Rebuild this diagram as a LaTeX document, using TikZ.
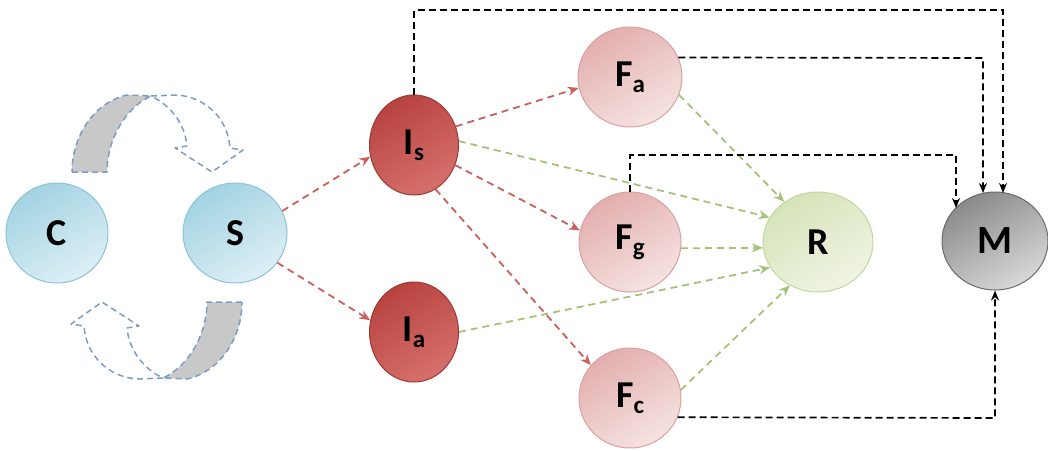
\documentclass[tikz,border=0pt]{standalone}
\usepackage{fontspec}
\setmainfont{Carlito}
\usetikzlibrary{shapes.geometric,arrows.meta,calc}
\definecolor{bluelo}{HTML}{A3D3E2}
\definecolor{bluehi}{HTML}{DDEFF5}
\definecolor{blueln}{HTML}{8CC3D4}
\definecolor{redlo}{HTML}{B8433F}
\definecolor{redhi}{HTML}{D6706C}
\definecolor{redln}{HTML}{9A3A36}
\definecolor{pinklo}{HTML}{E3AFAE}
\definecolor{pinkhi}{HTML}{F5E3E2}
\definecolor{pinkln}{HTML}{D9A0A0}
\definecolor{grnlo}{HTML}{D5E3B9}
\definecolor{grnhi}{HTML}{F0F5E4}
\definecolor{grnln}{HTML}{C4D6A0}
\definecolor{graylo}{HTML}{8A8A8A}
\definecolor{grayhi}{HTML}{D8D8D8}
\definecolor{grayln}{HTML}{6A6A6A}
\definecolor{redarr}{HTML}{C9605D}
\definecolor{grnarr}{HTML}{A6C27A}
\definecolor{cycln}{HTML}{7F9CC6}
\definecolor{cycfill}{HTML}{C8C8C8}
\newcommand\lbl[2]{#1\raisebox{-6pt}{\fontsize{25}{26}\selectfont #2}}
\begin{document}
\begin{tikzpicture}[x=1pt,y=-1pt,
  ball/.style={ellipse,inner sep=0pt,line width=1pt,font=\fontsize{38}{40}\selectfont\bfseries},
  bluenode/.style={ball,draw=blueln,left color=bluelo,right color=bluehi,shading angle=30,minimum width=102pt,minimum height=100pt},
  rednode/.style={ball,draw=redln,left color=redlo,right color=redhi,shading angle=30,minimum width=89pt,minimum height=100pt},
  pinknode/.style={ball,draw=pinkln,left color=pinklo,right color=pinkhi,shading angle=30,minimum width=102pt,minimum height=100pt},
  grnnode/.style={ball,draw=grnln,left color=grnlo,right color=grnhi,shading angle=30,minimum width=110pt,minimum height=100pt},
  graynode/.style={ball,draw=grayln,left color=graylo,right color=grayhi,shading angle=30,minimum width=106pt,minimum height=98pt},
  redcon/.style={draw=redarr,line width=1.8pt,dash pattern=on 7pt off 5pt,-{Stealth[length=11pt,width=9pt]}},
  grncon/.style={draw=grnarr,line width=1.8pt,dash pattern=on 7pt off 5pt,-{Stealth[length=11pt,width=9pt]}},
  blkcon/.style={draw=black,line width=1.7pt,dash pattern=on 7pt off 4pt,-{Stealth[length=10pt,width=8pt]}},
  cycout/.style={draw=cycln,line width=1.5pt,dash pattern=on 6pt off 4pt,line join=round},
]
\useasboundingbox (0,0) rectangle (1048,450);

% curved arrows
\begin{scope}
  \path[cycout,fill=cycfill] (72,172) -- (107,172) .. controls (107,140) and (125,108) .. (151,96) -- (127,95) .. controls (95,102) and (72,135) .. cycle;
  \path[cycout] (151,96) -- (177,95) .. controls (205,97) and (228,118) .. (230,148) -- (243,150) -- (212,172) -- (175,148) -- (187,146) .. controls (185,125) and (172,106) .. (151,96);
\end{scope}
\begin{scope}[rotate around={180:(157,237)}]
  \path[cycout,fill=cycfill] (72,172) -- (107,172) .. controls (107,140) and (125,108) .. (151,96) -- (127,95) .. controls (95,102) and (72,135) .. cycle;
  \path[cycout] (151,96) -- (177,95) .. controls (205,97) and (228,118) .. (230,148) -- (243,150) -- (212,172) -- (175,148) -- (187,146) .. controls (185,125) and (172,106) .. (151,96);
\end{scope}

% nodes
\node[bluenode] (C) at (57,233) {C};
\node[bluenode,minimum width=104pt] (S) at (235,233) {S};
\node[rednode] (Is) at (414,145) {\lbl{I}{s}};
\node[rednode] (Ia) at (414,332) {\lbl{I}{a}};
\node[pinknode,minimum width=104pt] (Fa) at (630,77) {\lbl{F}{a}};
\node[pinknode] (Fg) at (630,242) {\lbl{F}{g}};
\node[pinknode] (Fc) at (630,398) {\lbl{F}{c}};
\node[grnnode] (R) at (818,242) {R};
\node[graynode,font=\fontsize{40}{42}\selectfont\bfseries] (M) at (995,241) {M};

% red connectors
\draw[redcon] (S.25) -- (Is.195);
\draw[redcon] (S.-35) -- (Ia.165);
\draw[redcon] (Is.24) -- (Fa.192);
\draw[redcon] (Is.-26) -- (Fg.167);
\draw[redcon] (Is.-64) -- (Fc.140);

% green connectors
\draw[grncon] (Fa.-20) -- (R.130);
\draw[grncon] (Is.5) -- (R.153);
\draw[grncon] (Fg.-7) -- (R.186);
\draw[grncon] (Ia.0) -- (R.208);
\draw[grncon] (Fc.9) -- (R.237);

% black connectors
\coordinate (t1) at (1003,10);
\coordinate (t2) at (983,58);
\coordinate (t3) at (956,155);
\coordinate (t4) at (995,418);
\draw[blkcon] (Is.north) |- (t1) -- ($(M.center)+(8,-48)$);
\draw[blkcon] (Fa.22) -- (t2) -- ($(M.center)+(-12,-48)$);
\draw[blkcon] (Fg.north) |- (t3) -- ($(M.center)+(-39,-33)$);
\draw[blkcon] (Fc.-22) -- (t4) -- (M.south);
\end{tikzpicture}
\end{document}
